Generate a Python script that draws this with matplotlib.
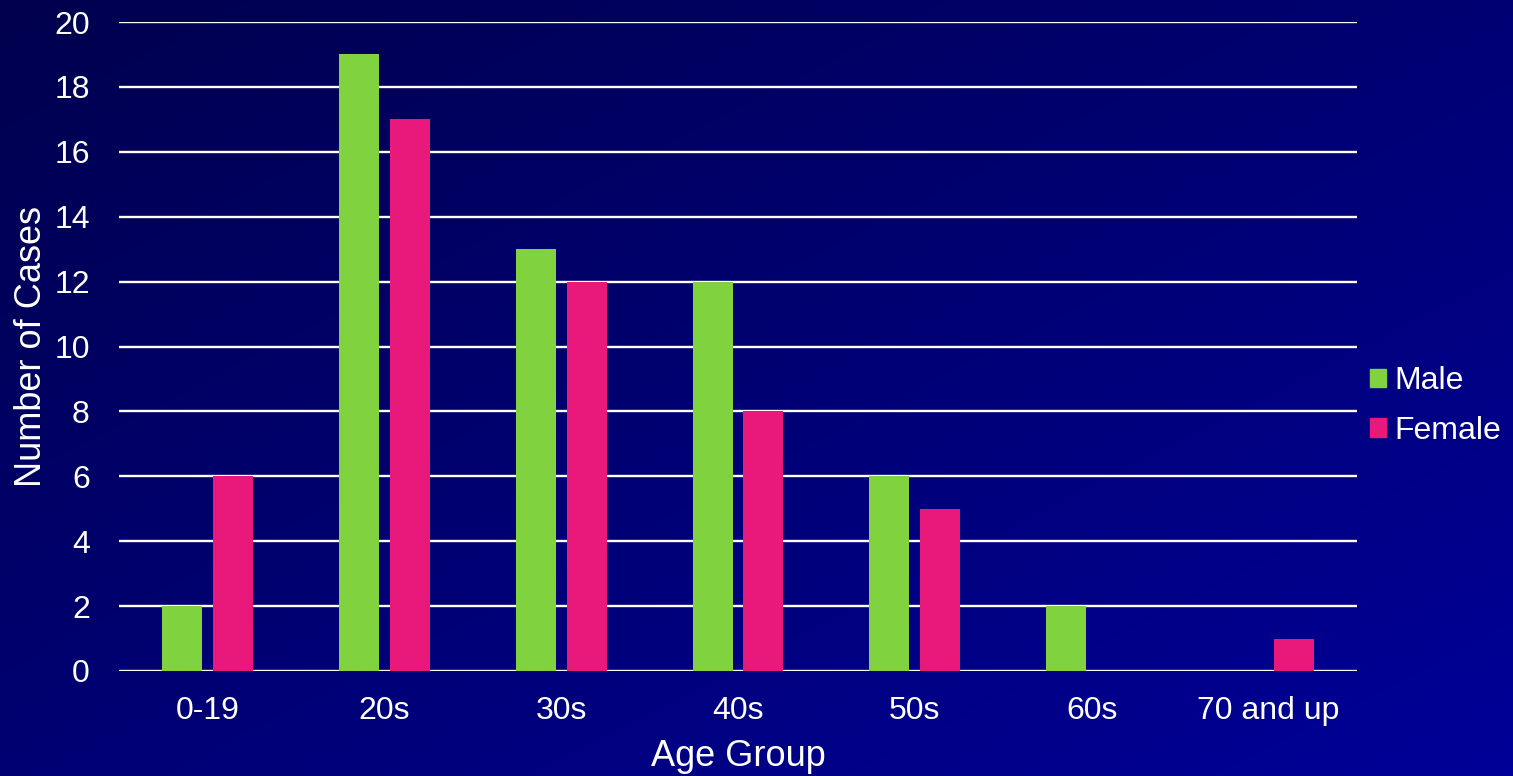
import matplotlib
matplotlib.use("Agg")
import matplotlib.pyplot as plt
import numpy as np
from matplotlib.colors import LinearSegmentedColormap
from matplotlib.patches import Patch

# Data
age_groups = ["0-19", "20s", "30s", "40s", "50s", "60s", "70 and up"]
male = [2, 19, 13, 12, 6, 2, 0]
female = [6, 17, 12, 8, 5, 0, 1]

plt.rcParams['font.family'] = ['Liberation Sans', 'DejaVu Sans']

fig = plt.figure(figsize=(15.13, 7.76), dpi=100)

# Diagonal gradient background
bg = fig.add_axes([0, 0, 1, 1], zorder=-10)
xx, yy = np.meshgrid(np.linspace(0, 1, 200), np.linspace(0, 1, 200))
grad = (xx + yy) / 2
cmap = LinearSegmentedColormap.from_list("bg", ["#00004E", "#000098"])
bg.imshow(grad, cmap=cmap, aspect="auto", extent=[0, 1, 1, 0], origin="upper")
bg.axis("off")

ax = fig.add_axes([119 / 1513, 1 - 671 / 776, 1238 / 1513, 649 / 776])
ax.patch.set_alpha(0)

x = np.arange(len(age_groups))
w = 0.226
off = 0.144
ax.bar(x - off, male, w, color="#80D23E", label="Male", zorder=3)
ax.bar(x + off, female, w, color="#E8197A", label="Female", zorder=3)

ax.set_xlim(-0.5, len(age_groups) - 0.5)
ax.set_ylim(0, 20)
ax.set_yticks(range(0, 21, 2))
ax.set_xticks(x)
ax.set_xticklabels(age_groups)
ax.yaxis.grid(True, color="white", linewidth=1.7, zorder=1)
ax.set_axisbelow(True)
for s in ax.spines.values():
    s.set_visible(False)
ax.tick_params(length=0, colors="white", labelsize=23)
ax.tick_params(axis="y", pad=21)
ax.tick_params(axis="x", pad=18)

ax.set_xlabel("Age Group", color="white", fontsize=26, labelpad=9)
ax.set_ylabel("Number of Cases", color="white", fontsize=26, labelpad=4)

handles = [Patch(color="#80D23E", label="Male"), Patch(color="#E8197A", label="Female")]
leg = fig.legend(handles=handles, loc="center left", bbox_to_anchor=(1370 / 1513, 1 - 406 / 776),
                 frameon=False, fontsize=23, handlelength=0.5, handleheight=0.5,
                 handletextpad=0.25, labelspacing=0.62, borderpad=0, borderaxespad=0)
for t in leg.get_texts():
    t.set_color("white")

fig.savefig("out.png", dpi=100)
